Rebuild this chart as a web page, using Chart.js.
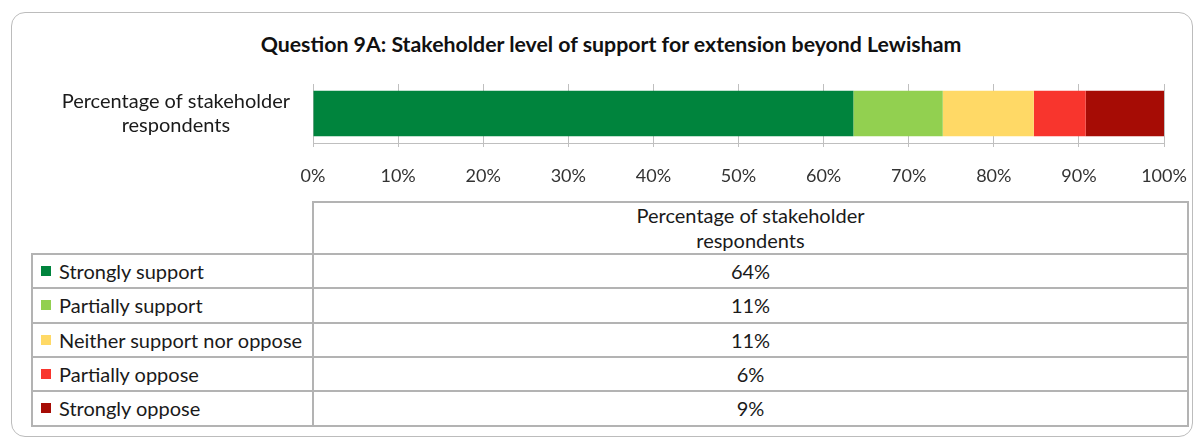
<!DOCTYPE html>
<html>
<head>
<meta charset="utf-8">
<script src="https://cdn.jsdelivr.net/npm/chart.js@4/dist/chart.umd.min.js"></script>
<style>
  html, body { margin:0; padding:0; background:#fff; width:1200px; height:441px; overflow:hidden; font-family:'Lato','Open Sans',sans-serif; }
  #frame { position:absolute; left:11px; top:12px; width:1182px; height:425px; border:1.5px solid #bcbcbc; border-radius:14px; box-sizing:border-box; }
  #title { position:absolute; left:161px; width:900px; top:31px; text-align:center; font-weight:bold; font-size:21.3px; color:#111; white-space:nowrap; }
  #chart { position:absolute; left:0; top:0; }
  .cell { position:absolute; box-sizing:border-box; font-size:20px; color:#1a1a1a; }
  .hline { position:absolute; height:2px; background:#b3b3b3; }
  .vline { position:absolute; width:2px; background:#b3b3b3; }
  .sq { position:absolute; width:10px; height:10px; }
</style>
</head>
<body>
<div id="frame"></div>
<div id="title">Question 9A: Stakeholder level of support for extension beyond Lewisham</div>
<canvas id="chart" width="1200" height="201"></canvas>
<div id="table"></div>
<script>
// ---- data ----
const categoryLines = ['Percentage of stakeholder', 'respondents'];
const seriesNames = ['Strongly support', 'Partially support', 'Neither support nor oppose', 'Partially oppose', 'Strongly oppose'];
const seriesValues = [63.5, 10.5, 10.7, 6.1, 9.2];
const tableLabels = ['64%', '11%', '11%', '6%', '9%'];
const xTickValues = [0, 10, 20, 30, 40, 50, 60, 70, 80, 90, 100];
// ---- style ----
const seriesColors = ['#00843D', '#92D050', '#FFD966', '#F8352D', '#A60C05'];

const FONT = 'Lato';
new Chart(document.getElementById('chart').getContext('2d'), {
  type: 'bar',
  data: {
    labels: [categoryLines],
    datasets: seriesNames.map((n, i) => ({
      label: n,
      data: [seriesValues[i]],
      backgroundColor: seriesColors[i],
      borderWidth: 0,
      barPercentage: 0.77,
      categoryPercentage: 1
    }))
  },
  options: {
    indexAxis: 'y',
    responsive: false,
    animation: false,
    plugins: { legend: { display: false }, tooltip: { enabled: false }, title: { display: false } },
    layout: { padding: { top: 84, right: 36, left: 0, bottom: 0 } },
    scales: {
      x: {
        stacked: true, min: 0, max: 100,
        afterBuildTicks: s => { s.ticks = xTickValues.map(v => ({ value: v })); },
        ticks: { callback: v => v + '%', color: '#333', font: { family: FONT, size: 18 }, padding: 18, maxRotation: 0, autoSkip: false },
        grid: { color: '#bfbfbf', lineWidth: 1, tickLength: 4, drawTicks: true },
        border: { color: '#bfbfbf', width: 1 },
        afterFit: s => { s.height = 58; s.paddingRight = 0; s.paddingLeft = 0; }
      },
      y: {
        stacked: true,
        ticks: { crossAlign: 'center', padding: 23, color: '#1a1a1a', font: { family: FONT, size: 20, lineHeight: 1.2 } },
        grid: { display: false, drawTicks: false },
        border: { display: false },
        afterFit: s => { s.width = 313; s.paddingTop = 0; s.paddingBottom = 0; }
      }
    }
  }
});

// ---- data table (legend + values) ----
const T = document.getElementById('table');
const tLeft = 32, tDiv = 313, tRight = 1188, hTop = 202, rTop = 254, rowH = 34.3;
function add(cls, css, html) { const d = document.createElement('div'); d.className = cls; Object.assign(d.style, css); if (html !== undefined) d.innerHTML = html; T.appendChild(d); return d; }
const rBottom = rTop + rowH * seriesNames.length;
// header
add('cell', { left: tDiv + 'px', top: hTop + 'px', width: (tRight - tDiv) + 'px', height: (rTop - hTop) + 'px', textAlign: 'center', lineHeight: '25px', paddingTop: '1px' }, categoryLines.join('<br>'));
add('hline', { left: tDiv + 'px', top: (hTop - 1) + 'px', width: (tRight - tDiv + 1) + 'px' });
add('vline', { left: (tDiv - 1) + 'px', top: (hTop - 1) + 'px', height: (rBottom - hTop + 2) + 'px' });
add('vline', { left: (tRight - 1) + 'px', top: (hTop - 1) + 'px', height: (rBottom - hTop + 2) + 'px' });
add('vline', { left: (tLeft - 1) + 'px', top: (rTop - 1) + 'px', height: (rBottom - rTop + 2) + 'px' });
for (let i = 0; i <= seriesNames.length; i++) {
  add('hline', { left: (tLeft - 1) + 'px', top: (rTop + rowH * i - 1) + 'px', width: (tRight - tLeft + 1) + 'px' });
}
seriesNames.forEach((n, i) => {
  const y = rTop + rowH * i;
  add('sq', { left: '41px', top: (y + rowH / 2 - 5) + 'px', background: seriesColors[i] });
  add('cell', { left: '59px', top: y + 'px', height: rowH + 'px', lineHeight: rowH + 'px', whiteSpace: 'nowrap' }, n);
  add('cell', { left: tDiv + 'px', top: y + 'px', width: (tRight - tDiv) + 'px', height: rowH + 'px', lineHeight: rowH + 'px', textAlign: 'center' }, tableLabels[i]);
});
</script>
</body>
</html>
